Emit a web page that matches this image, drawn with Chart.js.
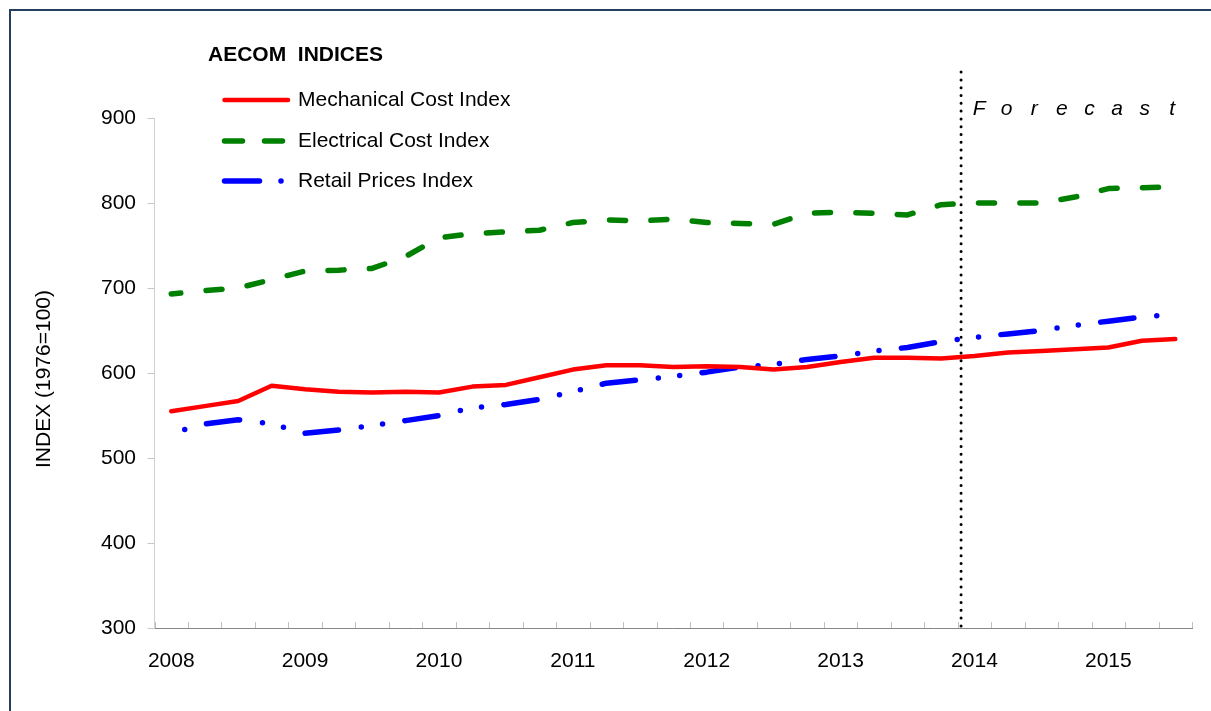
<!DOCTYPE html>
<html><head><meta charset="utf-8">
<script src="https://cdn.jsdelivr.net/npm/chart.js@4.4.1/dist/chart.umd.min.js"></script>
<style>html,body{margin:0;padding:0;background:#fff;overflow:hidden}#wrap{position:relative;width:1211px;height:711px}</style>
</head><body><div id="wrap"><canvas id="c" width="1211" height="711"></canvas></div>
<script>
// ---- data ----
const categories = [
  '2008 Q1','2008 Q2','2008 Q3','2008 Q4',
  '2009 Q1','2009 Q2','2009 Q3','2009 Q4',
  '2010 Q1','2010 Q2','2010 Q3','2010 Q4',
  '2011 Q1','2011 Q2','2011 Q3','2011 Q4',
  '2012 Q1','2012 Q2','2012 Q3','2012 Q4',
  '2013 Q1','2013 Q2','2013 Q3','2013 Q4',
  '2014 Q1','2014 Q2','2014 Q3','2014 Q4',
  '2015 Q1','2015 Q2','2015 Q3'
];
const mechanical = [555, 561, 567, 585, 581, 578, 577, 578, 577, 584, 586, 595, 604, 609, 609, 607, 608, 607, 604, 607, 613, 618, 618, 617, 620, 624, 626, 628, 630, 638, 640];
const electrical = [693, 697, 700, 710, 720, 721, 723, 737, 759, 764, 766, 768, 777, 780, 779, 781, 777, 776, 775, 788, 789, 788, 786, 798, 800, 800, 800, 807, 817, 818, 819];
const retail     = [529, 540, 545, 540, 529, 533, 538, 544, 550, 559, 563, 569, 578, 588, 592, 596, 601, 607, 610, 616, 620, 626, 630, 637, 642, 646, 650, 656, 661, 666, 669];
const seriesNames = ['Mechanical Cost Index', 'Electrical Cost Index', 'Retail Prices Index'];
const yTicks = [300, 400, 500, 600, 700, 800, 900];
const chartTitle = 'AECOM  INDICES';
const yAxisTitle = 'INDEX (1976=100)';
const forecastLabel = 'Forecast';
const forecastAt = 23.6;   // category index position of forecast divider (between 2013 Q4 and 2014 Q1)

const FONT = '"Liberation Sans", Arial, Helvetica, sans-serif';

const decor = {
  id: 'decor',
  beforeDraw(chart) {
    const ctx = chart.ctx;
    ctx.save();
    ctx.strokeStyle = '#243F60';
    ctx.lineWidth = 2;
    ctx.strokeRect(10, 10, 1400, 1000);
    ctx.restore();
  },
  afterDraw(chart) {
    const {ctx, scales: {x, y}} = chart;
    ctx.save();
    // x-axis tick marks (inside, between categories)
    ctx.strokeStyle = '#BFBFBF';
    ctx.lineWidth = 1;
    for (let k = 0; k <= categories.length; k++) {
      const px = Math.round(x.getPixelForValue(k - 0.5)) + 0.5;
      ctx.beginPath();
      ctx.moveTo(px, y.bottom);
      ctx.lineTo(px, y.bottom - 6);
      ctx.stroke();
    }
    // forecast divider
    const fx = x.getPixelForValue(forecastAt);
    ctx.strokeStyle = '#000';
    ctx.lineWidth = 3;
    ctx.lineCap = 'round';
    ctx.setLineDash([0, 7.8]);
    ctx.beginPath();
    ctx.moveTo(fx, y.getPixelForValue(954));
    ctx.lineTo(fx, y.bottom);
    ctx.stroke();
    ctx.setLineDash([]);
    // forecast label (letter-spaced italic)
    ctx.fillStyle = '#000';
    ctx.font = 'italic 21px ' + FONT;
    ctx.textAlign = 'center';
    ctx.textBaseline = 'alphabetic';
    const chars = forecastLabel.split('');
    chars.forEach((ch, k) => ctx.fillText(ch, fx + 18 + k * 27.6, 115));
    // chart title
    ctx.textAlign = 'left';
    ctx.textBaseline = 'middle';
    ctx.font = 'bold 21px ' + FONT;
    ctx.fillText(chartTitle, 208, 55);
    // y axis title
    ctx.save();
    ctx.translate(44, 379);
    ctx.rotate(-Math.PI / 2);
    ctx.textAlign = 'center';
    ctx.font = '21px ' + FONT;
    ctx.fillText(yAxisTitle, 0, 0);
    ctx.restore();
    // legend
    const rows = [100, 141, 181];
    chart.data.datasets.forEach((ds, i) => {
      const ry = rows[i];
      ctx.strokeStyle = ds.borderColor;
      ctx.lineWidth = ds.borderWidth;
      ctx.lineCap = 'round';
      ctx.setLineDash(ds.legendDash || []);
      ctx.beginPath();
      ctx.moveTo(224.5, ry);
      ctx.lineTo(ds.legendEnd || 288, ry);
      ctx.stroke();
      ctx.setLineDash([]);
      ctx.fillStyle = '#000';
      ctx.font = '21px ' + FONT;
      ctx.textAlign = 'left';
      ctx.textBaseline = 'middle';
      ctx.fillText(ds.label, 298, ry);
    });
    ctx.restore();
  }
};

new Chart(document.getElementById('c'), {
  type: 'line',
  data: {
    labels: categories,
    datasets: [
      { label: seriesNames[0], data: mechanical, borderColor: '#FF0000', borderWidth: 4.5,
        pointRadius: 0, tension: 0, borderJoinStyle: 'round', borderCapStyle: 'round', fill: false },
      { label: seriesNames[1], data: electrical, borderColor: '#008000', borderWidth: 5.5,
        pointRadius: 0, tension: 0, borderJoinStyle: 'round', borderCapStyle: 'round',
        borderDash: [16, 25.4], borderDashOffset: 6.4, fill: false,
        legendDash: [18, 22], legendEnd: 282.5 },
      { label: seriesNames[2], data: retail, borderColor: '#0000FF', borderWidth: 5.5,
        pointRadius: 0, tension: 0, borderJoinStyle: 'round', borderCapStyle: 'round',
        borderDash: [33.5, 23, 0, 21.5, 0, 22.5], borderDashOffset: 64, fill: false,
        legendDash: [35, 21.5, 0, 100], legendEnd: 282 }
    ]
  },
  options: {
    responsive: false,
    animation: false,
    devicePixelRatio: 1,
    layout: { padding: { left: 10, right: 19, top: 118, bottom: 0 } },
    plugins: { legend: { display: false }, title: { display: false }, tooltip: { enabled: false } },
    scales: {
      x: {
        type: 'category',
        offset: true,
        grid: { display: false },
        border: { display: true, color: '#868686', width: 1 },
        ticks: {
          autoSkip: false, maxRotation: 0, minRotation: 0, padding: 13,
          color: '#000', font: { family: FONT, size: 21 },
          callback: function (v, i) {
            const lab = categories[i];
            return lab.endsWith('Q1') ? lab.slice(0, 4) : '';
          }
        },
        afterFit(s) { s.height = 83; }
      },
      y: {
        type: 'linear',
        min: yTicks[0], max: yTicks[yTicks.length - 1],
        afterBuildTicks(s) { s.ticks = yTicks.map(v => ({ value: v })); },
        grid: { display: true, drawOnChartArea: false, drawTicks: true, tickLength: 7, color: '#C8C8C8' },
        border: { display: true, color: '#D0D0D0', width: 1 },
        ticks: { padding: 11.5, color: '#000', font: { family: FONT, size: 21 } },
        afterFit(s) { s.width = 144.5; }
      }
    }
  },
  plugins: [decor]
});
</script>
</body></html>
